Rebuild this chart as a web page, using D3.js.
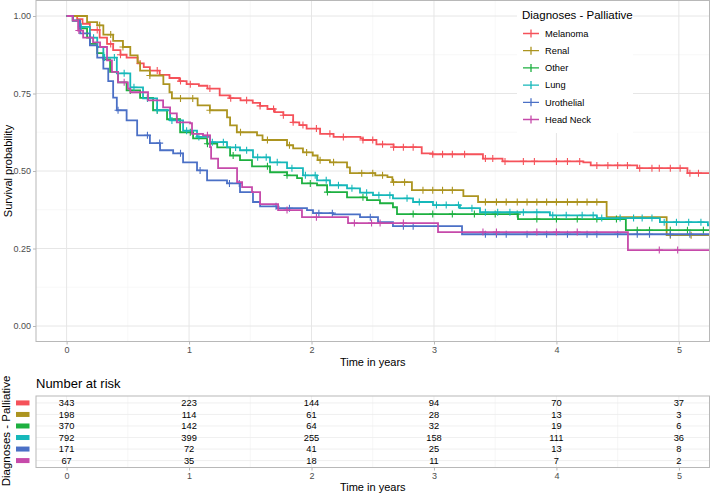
<!DOCTYPE html>
<html>
<head>
<meta charset="utf-8">
<script src="https://cdn.jsdelivr.net/npm/d3@7"></script>
<style>
  body { margin: 0; background: #fff; }
  text { font-family: "Liberation Sans", Arial, sans-serif; }
</style>
</head>
<body>
<div id="chart"></div>
<script>
// groups and colours
const groups = ["Melanoma", "Renal", "Other", "Lung", "Urothelial", "Head Neck"];
const colors = ["#F5525A", "#AC9420", "#1DB040", "#16B8BA", "#4B70C6", "#C64AAA"];

// Kaplan-Meier steps: [time in years, survival]
const melanomaSteps = [[0,1],[0.086,0.99],[0.13,0.975],[0.19,0.955],[0.27,0.93],[0.33,0.91],[0.38,0.89],[0.44,0.875],[0.49,0.866],[0.58,0.847],[0.63,0.835],[0.68,0.824],[0.76,0.81],[0.84,0.8],[0.92,0.79],[0.98,0.78],[1.08,0.775],[1.15,0.766],[1.25,0.744],[1.33,0.735],[1.42,0.728],[1.52,0.72],[1.58,0.71],[1.64,0.7],[1.7,0.69],[1.77,0.68],[1.85,0.657],[1.9,0.648],[1.96,0.637],[2.07,0.62],[2.18,0.61],[2.4,0.605],[2.42,0.6],[2.53,0.586],[2.67,0.577],[2.9,0.557],[2.99,0.554],[3.4,0.54],[3.56,0.531],[4.22,0.528],[4.28,0.518],[4.66,0.509],[5.07,0.493],[5.3,0.493]];
const renalSteps = [[0,1],[0.167,0.98],[0.25,0.97],[0.3,0.94],[0.38,0.92],[0.46,0.9],[0.52,0.873],[0.58,0.85],[0.6,0.824],[0.68,0.808],[0.79,0.78],[0.84,0.754],[0.86,0.734],[1.07,0.712],[1.17,0.696],[1.31,0.673],[1.335,0.647],[1.39,0.625],[1.555,0.615],[1.6,0.6],[1.8,0.583],[1.85,0.573],[1.93,0.56],[2.01,0.55],[2.05,0.535],[2.15,0.528],[2.29,0.512],[2.314,0.493],[2.52,0.486],[2.62,0.48],[2.66,0.464],[2.82,0.438],[3.24,0.419],[3.36,0.4],[4.41,0.351],[4.9,0.293],[5.3,0.293]];
const otherSteps = [[0,1],[0.05,0.985],[0.1,0.96],[0.167,0.93],[0.19,0.91],[0.25,0.88],[0.3,0.86],[0.355,0.82],[0.42,0.786],[0.49,0.76],[0.6,0.736],[0.706,0.696],[0.82,0.667],[0.927,0.625],[1.033,0.605],[1.147,0.588],[1.23,0.576],[1.335,0.55],[1.416,0.535],[1.514,0.515],[1.661,0.496],[1.8,0.486],[1.882,0.477],[1.922,0.46],[2.045,0.454],[2.127,0.432],[2.29,0.415],[2.453,0.406],[2.559,0.396],[2.665,0.383],[2.698,0.361],[3.686,0.345],[4.567,0.309],[5.3,0.309]];
const lungSteps = [[0,1],[0.05,0.985],[0.1,0.965],[0.19,0.93],[0.25,0.9],[0.3,0.866],[0.41,0.815],[0.52,0.77],[0.624,0.734],[0.739,0.696],[0.845,0.663],[0.951,0.63],[1.065,0.61],[1.171,0.593],[1.31,0.576],[1.416,0.567],[1.522,0.544],[1.661,0.528],[1.8,0.509],[1.93,0.486],[2.045,0.47],[2.151,0.454],[2.29,0.444],[2.396,0.43],[2.502,0.422],[2.665,0.412],[2.829,0.4],[2.992,0.39],[3.212,0.38],[3.376,0.367],[3.947,0.357],[4.33,0.348],[4.845,0.335],[5.237,0.325],[5.3,0.325]];
const urothelialSteps = [[0,1],[0.053,0.985],[0.11,0.944],[0.19,0.905],[0.25,0.866],[0.3,0.83],[0.34,0.79],[0.38,0.737],[0.41,0.696],[0.49,0.663],[0.576,0.615],[0.68,0.59],[0.763,0.567],[0.87,0.557],[0.951,0.528],[1.065,0.502],[1.147,0.47],[1.31,0.46],[1.416,0.432],[1.522,0.4],[1.58,0.386],[1.718,0.38],[1.963,0.374],[2.012,0.364],[2.176,0.36],[2.396,0.351],[2.543,0.335],[2.665,0.322],[3.229,0.296],[5.3,0.296]];
const headNeckSteps = [[0,1],[0.05,0.985],[0.094,0.953],[0.135,0.93],[0.216,0.915],[0.273,0.9],[0.33,0.857],[0.37,0.82],[0.42,0.786],[0.5,0.766],[0.52,0.754],[0.665,0.728],[0.788,0.705],[0.845,0.686],[0.9,0.657],[1.008,0.654],[1.024,0.62],[1.114,0.615],[1.171,0.577],[1.18,0.54],[1.237,0.509],[1.392,0.464],[1.433,0.448],[1.514,0.432],[1.58,0.393],[1.727,0.374],[1.922,0.351],[2.298,0.332],[3.033,0.303],[4.584,0.245],[5.3,0.245]];

// censoring times
const melanomaCens = [0.25,0.36,0.44,0.6,0.74,0.93,1.01,1.17,1.34,1.47,1.58,1.69,1.77,1.85,1.93,2.04,2.15,2.26,2.42,2.5,2.58,2.67,2.75,2.83,2.99,3.07,3.15,3.25,3.42,3.48,3.58,3.73,3.82,4.0,4.09,4.19,4.33,4.42,4.5,4.58,4.68,4.78,4.84,4.93,5.01,5.09,5.16];
const renalCens = [0.27,0.36,0.46,0.68,0.93,1.03,1.17,1.42,1.64,1.82,1.96,2.07,2.18,2.41,2.5,2.58,2.67,2.76,2.91,2.99,3.07,3.15,3.42,3.51,3.59,3.68,3.76,3.84,3.92,4.0,4.09,4.17,4.25,4.33,4.93,5.1];
const otherCens = [0.52,0.66,0.74,0.9,1.01,1.15,1.36,1.64,1.8,1.99,2.13,2.42,2.83,2.99,3.15,3.33,3.5,3.68,3.84,4.0,4.17,4.33,4.49,4.66,4.76,4.93,5.07,5.2];
const lungCens = [0.12,0.22,0.31,0.39,0.47,0.55,0.66,0.74,0.86,0.98,1.08,1.19,1.28,1.38,1.47,1.56,1.63,1.72,1.84,1.95,2.03,2.12,2.22,2.33,2.45,2.55,2.64,2.78,2.88,3.02,3.1,3.2,3.31,3.42,3.52,3.62,3.73,3.84,3.97,4.08,4.21,4.3,4.37,4.52,4.63,4.7,4.78,4.88,4.98,5.08,5.18];
const urothelialCens = [0.42,0.66,0.76,0.93,1.09,1.33,1.41,1.71,1.82,2.06,2.17,2.48,2.75,2.83,3.42,3.51,3.59,3.76,3.92,4.09,4.25,4.33,4.5,4.66,4.76,4.93,5.09];
const headNeckCens = [0.1,0.47,1.15,1.8,2.04,2.35,2.49,2.56,2.75,3.4,3.51,3.84,4.0,4.17,4.84,4.99];

// number at risk
const riskTimes = [0, 1, 2, 3, 4, 5];
const riskMelanoma = [343, 223, 144, 94, 70, 37];
const riskRenal = [198, 114, 61, 28, 13, 3];
const riskOther = [370, 142, 64, 32, 19, 6];
const riskLung = [792, 399, 255, 158, 111, 36];
const riskUrothelial = [171, 72, 41, 25, 13, 8];
const riskHeadNeck = [67, 35, 18, 11, 7, 2];

const yTicks = [0, 0.25, 0.5, 0.75, 1];
const yMinor = [0.125, 0.375, 0.625, 0.875];
const xTicks = [0, 1, 2, 3, 4, 5];
const xMinor = [0.5, 1.5, 2.5, 3.5, 4.5];

const series = [
  { steps: melanomaSteps, cens: melanomaCens, risk: riskMelanoma },
  { steps: renalSteps, cens: renalCens, risk: riskRenal },
  { steps: otherSteps, cens: otherCens, risk: riskOther },
  { steps: lungSteps, cens: lungCens, risk: riskLung },
  { steps: urothelialSteps, cens: urothelialCens, risk: riskUrothelial },
  { steps: headNeckSteps, cens: headNeckCens, risk: riskHeadNeck },
];

const width = 710;
const height = 494;
const panel = { left: 36, right: 709.5, top: 0.5, bottom: 341.5 };
const riskPanel = { top: 396, bottom: 467.5 };

const svg = d3.select("#chart").append("svg")
  .attr("width", width)
  .attr("height", height);

const x = d3.scaleLinear().domain([-0.25, 5.25]).range([panel.left, panel.right]);
const y = d3.scaleLinear().domain([-0.05, 1.05]).range([panel.bottom, panel.top]);
const yr = d3.scaleLinear().domain([0.4, 6.6]).range([riskPanel.top, riskPanel.bottom]);

// main panel grid
const grid = svg.append("g");
grid.selectAll(".ymin").data(yMinor).join("line")
  .attr("x1", panel.left).attr("x2", panel.right)
  .attr("y1", d => y(d)).attr("y2", d => y(d))
  .attr("stroke", "#F3F3F3").attr("stroke-width", 0.6);
grid.selectAll(".xmin").data(xMinor).join("line")
  .attr("y1", panel.top).attr("y2", panel.bottom)
  .attr("x1", d => x(d)).attr("x2", d => x(d))
  .attr("stroke", "#F3F3F3").attr("stroke-width", 0.6);
grid.selectAll(".ymaj").data(yTicks).join("line")
  .attr("x1", panel.left).attr("x2", panel.right)
  .attr("y1", d => y(d)).attr("y2", d => y(d))
  .attr("stroke", "#E6E6E6").attr("stroke-width", 1);
grid.selectAll(".xmaj").data(xTicks).join("line")
  .attr("y1", panel.top).attr("y2", panel.bottom)
  .attr("x1", d => x(d)).attr("x2", d => x(d))
  .attr("stroke", "#E6E6E6").attr("stroke-width", 1);

svg.append("clipPath").attr("id", "clip")
  .append("rect")
  .attr("x", panel.left).attr("y", panel.top)
  .attr("width", panel.right - panel.left).attr("height", panel.bottom - panel.top);

// survival curves
const line = d3.line()
  .x(d => x(d[0]))
  .y(d => y(d[1]))
  .curve(d3.curveStepAfter);

function survAt(steps, t) {
  const i = d3.bisector(d => d[0]).right(steps, t) - 1;
  return steps[Math.max(0, i)][1];
}

const curves = svg.append("g").attr("clip-path", "url(#clip)");
series.forEach((s, i) => {
  curves.append("path")
    .datum(s.steps)
    .attr("fill", "none")
    .attr("stroke", colors[i])
    .attr("stroke-width", 1.8)
    .attr("d", line);
  curves.append("g").selectAll("path").data(s.cens).join("path")
    .attr("fill", "none")
    .attr("stroke", colors[i])
    .attr("stroke-width", 1.1)
    .attr("d", t => {
      const px = x(t), py = y(survAt(s.steps, t));
      return `M${px - 3.5},${py}h7M${px},${py - 3.5}v7`;
    });
});

// panel border
svg.append("rect")
  .attr("x", panel.left).attr("y", panel.top)
  .attr("width", panel.right - panel.left).attr("height", panel.bottom - panel.top)
  .attr("fill", "none").attr("stroke", "#B8B8B8").attr("stroke-width", 1);

// axes
const gX = svg.append("g").attr("transform", `translate(0,${panel.bottom})`)
  .call(d3.axisBottom(x).tickValues(xTicks).tickFormat(d3.format("d")).tickSize(3).tickPadding(2));
const gY = svg.append("g").attr("transform", `translate(${panel.left},0)`)
  .call(d3.axisLeft(y).tickValues(yTicks).tickFormat(d3.format(".2f")).tickSize(3).tickPadding(2));
[gX, gY].forEach(g => {
  g.select(".domain").remove();
  g.selectAll("line").attr("stroke", "#B8B8B8");
  g.selectAll("text").attr("fill", "#4D4D4D").style("font-size", "9px")
    .style("font-family", '"Liberation Sans", Arial, sans-serif');
});

svg.append("text")
  .attr("x", (panel.left + panel.right) / 2).attr("y", 366)
  .attr("text-anchor", "middle").style("font-size", "11px")
  .text("Time in years");
svg.append("text")
  .attr("transform", `translate(12,${y(0.5)}) rotate(-90)`)
  .attr("text-anchor", "middle").style("font-size", "11px")
  .text("Survival probability");

// legend
const legend = svg.append("g");
legend.append("rect")
  .attr("x", 517).attr("y", 1).attr("width", 116).attr("height", 132)
  .attr("fill", "#fff");
legend.append("text")
  .attr("x", 522).attr("y", 19).style("font-size", "11.5px")
  .text("Diagnoses - Palliative");
groups.forEach((g, i) => {
  const cy = 33.5 + i * 17.2;
  legend.append("path")
    .attr("d", `M523,${cy}h16M531,${cy - 4}v8`)
    .attr("stroke", colors[i]).attr("stroke-width", 1.3).attr("fill", "none");
  legend.append("text")
    .attr("x", 545).attr("y", cy + 3.3).style("font-size", "9.3px")
    .text(g);
});

// number at risk table
svg.append("text")
  .attr("x", 36).attr("y", 388).style("font-size", "13px")
  .text("Number at risk");

const rGrid = svg.append("g");
rGrid.selectAll(".rxmin").data(xMinor).join("line")
  .attr("y1", riskPanel.top).attr("y2", riskPanel.bottom)
  .attr("x1", d => x(d)).attr("x2", d => x(d))
  .attr("stroke", "#F0F0F0").attr("stroke-width", 0.6);
rGrid.selectAll(".rxmaj").data(xTicks).join("line")
  .attr("y1", riskPanel.top).attr("y2", riskPanel.bottom)
  .attr("x1", d => x(d)).attr("x2", d => x(d))
  .attr("stroke", "#EBEBEB").attr("stroke-width", 0.8);
rGrid.selectAll(".rymaj").data(d3.range(1, groups.length + 1)).join("line")
  .attr("x1", panel.left).attr("x2", panel.right)
  .attr("y1", d => yr(d)).attr("y2", d => yr(d))
  .attr("stroke", "#EBEBEB").attr("stroke-width", 0.8);

series.forEach((s, i) => {
  svg.append("g").selectAll("text").data(s.risk).join("text")
    .attr("x", (d, j) => x(riskTimes[j]))
    .attr("y", yr(i + 1) + 3.3)
    .attr("text-anchor", "middle")
    .style("font-size", "9.3px")
    .text(d => d);
  svg.append("rect")
    .attr("x", 16).attr("y", yr(i + 1) - 2.5)
    .attr("width", 13.5).attr("height", 5)
    .attr("fill", colors[i]);
});

svg.append("rect")
  .attr("x", panel.left).attr("y", riskPanel.top)
  .attr("width", panel.right - panel.left).attr("height", riskPanel.bottom - riskPanel.top)
  .attr("fill", "none").attr("stroke", "#B8B8B8").attr("stroke-width", 1);

const gXr = svg.append("g").attr("transform", `translate(0,${riskPanel.bottom})`)
  .call(d3.axisBottom(x).tickValues(xTicks).tickFormat(d3.format("d")).tickSize(3).tickPadding(2));
gXr.select(".domain").remove();
gXr.selectAll("line").attr("stroke", "#B8B8B8");
gXr.selectAll("text").attr("fill", "#4D4D4D").style("font-size", "9px")
  .style("font-family", '"Liberation Sans", Arial, sans-serif');

svg.append("text")
  .attr("x", (panel.left + panel.right) / 2).attr("y", 491)
  .attr("text-anchor", "middle").style("font-size", "11px")
  .text("Time in years");
svg.append("text")
  .attr("transform", `translate(10,431) rotate(-90)`)
  .attr("text-anchor", "middle").style("font-size", "11.5px")
  .text("Diagnoses - Palliative");
</script>
</body>
</html>
